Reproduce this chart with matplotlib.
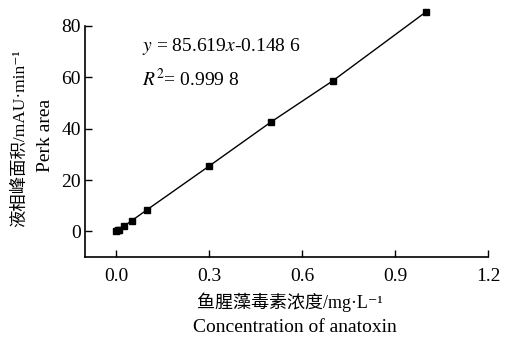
import matplotlib.pyplot as plt
import numpy as np

plt.rcParams['font.family'] = ['Liberation Serif', 'Noto Sans CJK SC', 'DejaVu Serif']
plt.rcParams['mathtext.fontset'] = 'stix'

# 鱼腥藻毒素浓度 (mg/L) 与峰面积
conc = [0.0, 0.005, 0.01, 0.025, 0.05, 0.1, 0.3, 0.5, 0.7, 1.0]
area = [0.2, 0.4, 0.7, 2.0, 4.1, 8.4, 25.4, 42.6, 58.7, 85.5]
xticks = [0.0, 0.3, 0.6, 0.9, 1.2]
yticks = [0, 20, 40, 60, 80]

fig = plt.figure(figsize=(5.07, 3.43), dpi=100)
ax = fig.add_axes([0.1677, 0.2507, 0.7948, 0.6735])

ax.plot(conc, area, color='black', lw=1.0, marker='s', ms=4.5,
        clip_on=False, zorder=3)

ax.set_xlim(-0.1, 1.2)
ax.set_ylim(-10, 80)
ax.set_xticks(xticks)
ax.set_xticklabels(['%.1f' % v for v in xticks])
ax.set_yticks(yticks)
ax.spines['top'].set_visible(False)
ax.spines['right'].set_visible(False)
ax.tick_params(direction='in', length=5, width=1, labelsize=14)
ax.tick_params(axis='y', pad=3)
ax.tick_params(axis='x', pad=8)
ax.spines['left'].set_linewidth(1.2)
ax.spines['bottom'].set_linewidth(1.2)

# 回归方程
ax.text(0.085, 72, r'$y$ = 85.619$x$-0.148 6', fontsize=14, va='center')
ax.text(0.085, 59.5, r'$R^2$= 0.999 8', fontsize=14, va='center')

# 坐标轴标题
fig.text(20 / 507, 1 - 138 / 343, '液相峰面积/mAU·min⁻¹', rotation=90,
         ha='center', va='center', fontsize=12.5)
fig.text(46 / 507, 1 - 135 / 343, 'Perk area', rotation=90,
         ha='center', va='center', fontsize=14)
fig.text(290 / 507, 1 - 302 / 343, '鱼腥藻毒素浓度/mg·L⁻¹',
         ha='center', va='center', fontsize=13)
fig.text(295 / 507, 1 - 327 / 343, 'Concentration of anatoxin',
         ha='center', va='center', fontsize=14)

fig.savefig('out.png', dpi=100)
